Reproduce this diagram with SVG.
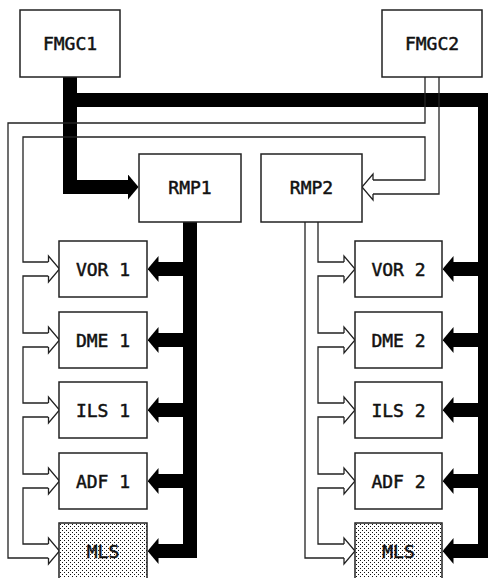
<svg xmlns="http://www.w3.org/2000/svg" width="488" height="578" viewBox="0 0 488 578">
  <defs>
    <style>
      .box { fill: #ffffff; stroke: #222; stroke-width: 1.5; }
      .mls { fill: url(#stipple); stroke: #222; stroke-width: 1.5; }
      .lbl { font-family: "DejaVu Sans Mono", "Liberation Mono", monospace; font-size: 18px; fill: #111; stroke: #111; stroke-width: 0.5; text-anchor: middle; }
      .bus { fill: none; stroke: #000; stroke-width: 14; stroke-linejoin: miter; stroke-linecap: butt; }
      .wall { fill: none; stroke: #222; stroke-width: 1.3; }
      .head { fill: #fff; stroke: #222; stroke-width: 1.3; stroke-linejoin: miter; }
    </style>
    <pattern id="stipple" width="4" height="4" patternUnits="userSpaceOnUse">
      <rect width="4" height="4" fill="#fff"/>
      <rect x="0" y="0" width="1" height="1" fill="#111"/>
      <rect x="2" y="2" width="1" height="1" fill="#111"/>
    </pattern>
    <marker id="thick" viewBox="0 0 11 26" markerWidth="11" markerHeight="26" refX="0.5" refY="13" orient="auto" markerUnits="userSpaceOnUse">
      <path d="M0,0 L11,13 L0,26 Z" fill="#000"/>
    </marker>
    <path id="hollow" d="M0,-7 V-13 L11,0 L0,13 V7"/>
  </defs>

  <g id="connectors">
    <!-- thick buses -->
    <path class="bus" d="M70,77 V187 H128" marker-end="url(#thick)"/>
    <path class="bus" d="M70,100 H485 V551 H453" marker-end="url(#thick)"/>
    <path class="bus" d="M485,269 H453" marker-end="url(#thick)"/>
    <path class="bus" d="M485,340 H453" marker-end="url(#thick)"/>
    <path class="bus" d="M485,410 H453" marker-end="url(#thick)"/>
    <path class="bus" d="M485,481 H453" marker-end="url(#thick)"/>
    <path class="bus" d="M190,222 V551 H158" marker-end="url(#thick)"/>
    <path class="bus" d="M190,269 H158" marker-end="url(#thick)"/>
    <path class="bus" d="M190,340 H158" marker-end="url(#thick)"/>
    <path class="bus" d="M190,410 H158" marker-end="url(#thick)"/>
    <path class="bus" d="M190,481 H158" marker-end="url(#thick)"/>

    <!-- hollow pipe from FMGC2 -->
    <polyline class="wall" points="425,77 425,123 8,123 8,558 48.5,558"/>
    <polyline class="wall" points="439,77 439,194 373,194"/>
    <polyline class="wall" points="373,180 425,180 425,137 23,137 23,262 48.5,262"/>
    <polyline class="wall" points="48.5,276 23,276 23,333 48.5,333"/>
    <polyline class="wall" points="48.5,347 23,347 23,403 48.5,403"/>
    <polyline class="wall" points="48.5,417 23,417 23,474 48.5,474"/>
    <polyline class="wall" points="48.5,488 23,488 23,544 48.5,544"/>

    <!-- hollow pipe from RMP2 -->
    <polyline class="wall" points="305,222 305,558 344,558"/>
    <polyline class="wall" points="318,222 318,262 344,262"/>
    <polyline class="wall" points="344,276 318,276 318,333 344,333"/>
    <polyline class="wall" points="344,347 318,347 318,403 344,403"/>
    <polyline class="wall" points="344,417 318,417 318,474 344,474"/>
    <polyline class="wall" points="344,488 318,488 318,544 344,544"/>

    <!-- hollow arrowheads -->
    <use href="#hollow" class="head" transform="translate(373,187) scale(-1,1)"/>
    <use href="#hollow" class="head" transform="translate(48.5,269)"/>
    <use href="#hollow" class="head" transform="translate(48.5,340)"/>
    <use href="#hollow" class="head" transform="translate(48.5,410)"/>
    <use href="#hollow" class="head" transform="translate(48.5,481)"/>
    <use href="#hollow" class="head" transform="translate(48.5,551)"/>
    <use href="#hollow" class="head" transform="translate(344,269)"/>
    <use href="#hollow" class="head" transform="translate(344,340)"/>
    <use href="#hollow" class="head" transform="translate(344,410)"/>
    <use href="#hollow" class="head" transform="translate(344,481)"/>
    <use href="#hollow" class="head" transform="translate(344,551)"/>
  </g>

  <g id="fmgc1"><rect class="box" x="20" y="10" width="100" height="67"/><text class="lbl" x="70" y="50">FMGC1</text></g>
  <g id="fmgc2"><rect class="box" x="382" y="10" width="100" height="67"/><text class="lbl" x="432" y="50">FMGC2</text></g>
  <g id="rmp1"><rect class="box" x="139" y="154" width="102" height="68"/><text class="lbl" x="190" y="194">RMP1</text></g>
  <g id="rmp2"><rect class="box" x="261" y="154" width="101" height="68"/><text class="lbl" x="311.5" y="194">RMP2</text></g>

  <g id="vor1"><rect class="box" x="59" y="241" width="88" height="56"/><text class="lbl" x="103" y="275.5">VOR 1</text></g>
  <g id="dme1"><rect class="box" x="59" y="312" width="88" height="56"/><text class="lbl" x="103" y="346.5">DME 1</text></g>
  <g id="ils1"><rect class="box" x="59" y="382" width="88" height="56"/><text class="lbl" x="103" y="416.5">ILS 1</text></g>
  <g id="adf1"><rect class="box" x="59" y="453" width="88" height="56"/><text class="lbl" x="103" y="487.5">ADF 1</text></g>
  <g id="mls1"><rect class="mls" x="59" y="523" width="88" height="60"/><text class="lbl" x="103" y="557.5">MLS</text></g>

  <g id="vor2"><rect class="box" x="355" y="241" width="87" height="56"/><text class="lbl" x="398.5" y="275.5">VOR 2</text></g>
  <g id="dme2"><rect class="box" x="355" y="312" width="87" height="56"/><text class="lbl" x="398.5" y="346.5">DME 2</text></g>
  <g id="ils2"><rect class="box" x="355" y="382" width="87" height="56"/><text class="lbl" x="398.5" y="416.5">ILS 2</text></g>
  <g id="adf2"><rect class="box" x="355" y="453" width="87" height="56"/><text class="lbl" x="398.5" y="487.5">ADF 2</text></g>
  <g id="mls2"><rect class="mls" x="355" y="523" width="87" height="60"/><text class="lbl" x="398.5" y="557.5">MLS</text></g>
</svg>
